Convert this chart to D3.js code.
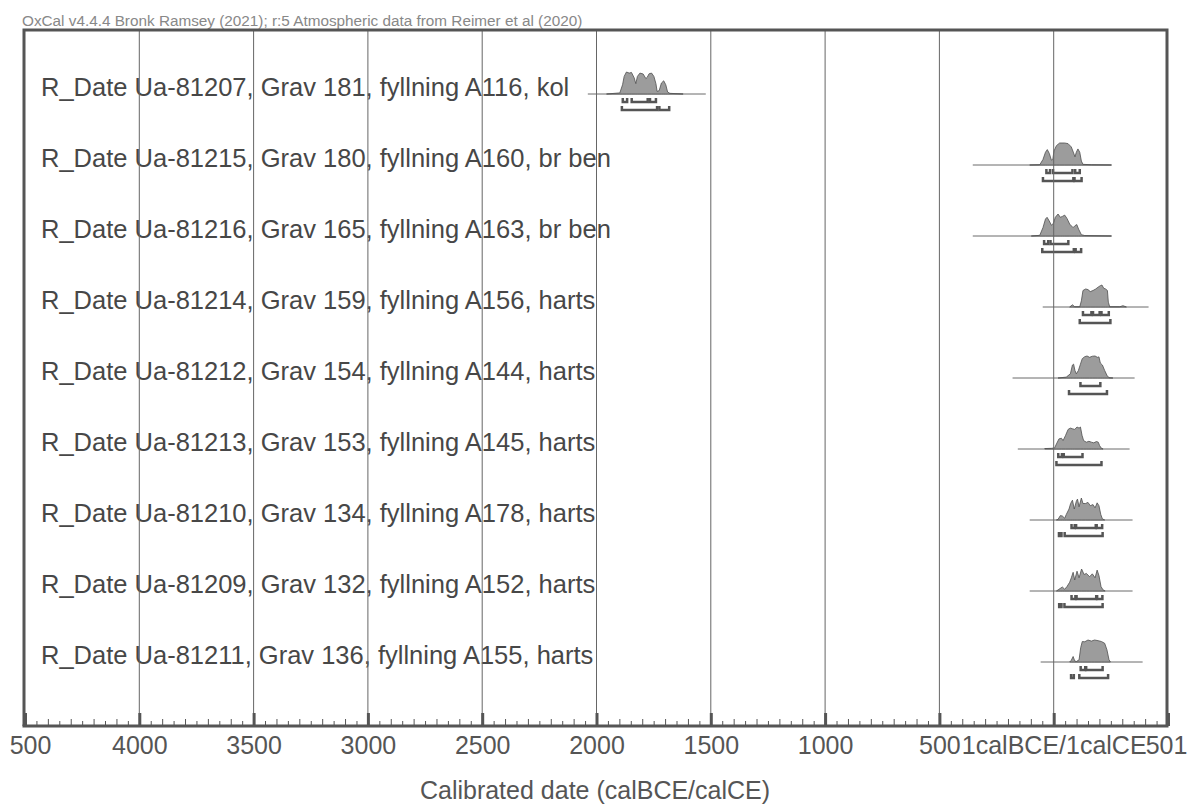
<!DOCTYPE html>
<html>
<head>
<meta charset="utf-8">
<script src="https://cdn.jsdelivr.net/npm/d3@7"></script>
<style>
  body { margin: 0; background: #fff; }
  svg { display: block; font-family: "Liberation Sans", Arial, sans-serif; }
</style>
</head>
<body>
<svg width="1187" height="805"></svg>
<script>
const header = 'OxCal v4.4.4 Bronk Ramsey (2021); r:5 Atmospheric data from Reimer et al (2020)';
const axisTitle = 'Calibrated date (calBCE/calCE)';

const rowLabels = [
  'R_Date Ua-81207, Grav 181, fyllning A116, kol',
  'R_Date Ua-81215, Grav 180, fyllning A160, br ben',
  'R_Date Ua-81216, Grav 165, fyllning A163, br ben',
  'R_Date Ua-81214, Grav 159, fyllning A156, harts',
  'R_Date Ua-81212, Grav 154, fyllning A144, harts',
  'R_Date Ua-81213, Grav 153, fyllning A145, harts',
  'R_Date Ua-81210, Grav 134, fyllning A178, harts',
  'R_Date Ua-81209, Grav 132, fyllning A152, harts',
  'R_Date Ua-81211, Grav 136, fyllning A155, harts'
];

// extent of the thin horizontal line under each distribution (years, negative = BCE)
const lineExtents = [
  [-2038, -1522], [-354, 254], [-354, 254], [-48, 415], [-180, 354],
  [-157, 332], [-105, 345], [-105, 345], [-57, 389]
];

// probability curves: [year, relative probability]
const ua81207 = [[-1956, 0], [-1898, 0.05], [-1886, 0.42], [-1879, 0.8], [-1869, 1], [-1857, 0.95],
  [-1847, 0.98], [-1835, 0.73], [-1828, 0.47], [-1821, 0.8], [-1810, 0.95], [-1796, 0.91],
  [-1784, 0.7], [-1778, 0.76], [-1770, 0.92], [-1759, 0.95], [-1749, 0.8], [-1740, 0.47],
  [-1735, 0.12], [-1726, 0.15], [-1716, 0.5], [-1706, 0.6], [-1697, 0.42], [-1689, 0.09],
  [-1679, 0.03], [-1621, 0]];
const ua81215 = [[-105, 0], [-61, 0.01], [-47, 0.25], [-36, 0.58], [-28, 0.7], [-19, 0.52],
  [-10, 0.22], [-4, 0.25], [1, 0.63], [12, 0.88], [26, 1], [48, 1], [63, 0.97], [77, 0.82],
  [87, 0.55], [93, 0.37], [99, 0.58], [106, 0.73], [114, 0.58], [121, 0.18], [128, 0.03],
  [165, 0.01], [252, 0]];
const ua81216 = [[-98, 0], [-61, 0.03], [-47, 0.38], [-36, 0.77], [-29, 0.85], [-20, 0.69],
  [-10, 0.49], [-1, 0.58], [7, 0.85], [19, 1], [29, 0.85], [38, 0.89], [48, 0.95], [58, 0.8],
  [70, 0.54], [85, 0.38], [92, 0.46], [101, 0.52], [109, 0.31], [121, 0.06], [136, 0.02], [252, 0]];
const ua81214 = [[70, 0], [82, 0.1], [92, 0.01], [114, 0.01], [121, 0.28], [128, 0.75], [140, 0.82],
  [150, 0.79], [160, 0.7], [172, 0.75], [184, 0.82], [194, 0.9], [204, 0.97], [211, 1],
  [219, 0.85], [227, 0.82], [235, 0.75], [239, 0.22], [245, 0.01], [289, 0.01], [303, 0.06], [318, 0]];
const ua81212 = [[19, 0], [55, 0.04], [73, 0.19], [82, 0.59], [87, 0.63], [93, 0.34], [99, 0.19],
  [108, 0.34], [117, 0.63], [125, 0.88], [136, 0.97], [146, 1], [157, 0.94], [169, 0.99],
  [181, 1], [191, 0.94], [198, 0.96], [204, 0.68], [213, 0.59], [223, 0.34], [233, 0.12],
  [242, 0.01], [259, 0]];
const ua81213 = [[-39, 0.02], [-10, 0.03], [4, 0.05], [12, 0.23], [23, 0.46], [34, 0.49], [41, 0.38],
  [52, 0.62], [63, 0.89], [73, 0.95], [82, 0.92], [92, 0.89], [102, 1], [111, 0.95], [117, 1],
  [124, 0.62], [131, 0.38], [143, 0.31], [154, 0.35], [165, 0.31], [175, 0.28], [187, 0.34],
  [195, 0.31], [201, 0.15], [209, 0.03], [216, 0]];
const ua81210 = [[12, 0], [19, 0.03], [29, 0.2], [38, 0.18], [48, 0.08], [55, 0.25], [67, 0.5],
  [74, 0.75], [82, 0.9], [90, 0.5], [99, 0.85], [104, 0.95], [111, 0.6], [121, 1], [128, 0.75],
  [139, 0.75], [150, 0.8], [160, 0.65], [172, 0.7], [181, 0.55], [190, 0.78], [198, 0.65],
  [206, 0.25], [213, 0.05], [223, 0]];
const ua81209 = [[12, 0], [19, 0.05], [29, 0.12], [38, 0.18], [48, 0.08], [58, 0.2], [70, 0.4],
  [77, 0.6], [85, 0.85], [92, 0.5], [102, 0.9], [111, 0.6], [122, 1], [133, 0.75], [143, 0.8],
  [157, 0.65], [169, 0.78], [181, 0.6], [190, 0.95], [198, 0.7], [207, 0.2], [216, 0.05], [225, 0]];
const ua81211 = [[70, 0], [77, 0.08], [85, 0.25], [92, 0.05], [99, 0.02], [111, 0.1], [118, 0.65],
  [125, 0.93], [136, 0.92], [150, 1], [165, 0.95], [179, 1], [194, 0.97], [209, 0.93],
  [223, 0.85], [233, 0.55], [242, 0.1], [248, 0]];
const densities = [ua81207, ua81215, ua81216, ua81214, ua81212, ua81213, ua81210, ua81209, ua81211];

// 68.2% and 95.4% ranges
const ranges68 = [
  [[-1885, -1866], [-1846, -1776], [-1766, -1740]],
  [[-32, -16], [-3, 82], [94, 114]],
  [[-42, -24], [-14, 64]],
  [[128, 165], [172, 201], [209, 241]],
  [[117, 204]],
  [[20, 36], [44, 126]],
  [[78, 92], [98, 184], [188, 212]],
  [[78, 95], [100, 186], [190, 213]],
  [[118, 138], [142, 214]]
];
const ranges95 = [
  [[-1889, -1735], [-1725, -1682]],
  [[-47, 86], [91, 122]],
  [[-50, 88], [96, 120]],
  [[114, 248]],
  [[67, 233]],
  [[12, 209]],
  [[23, 34], [48, 214]],
  [[24, 34], [47, 214]],
  [[76, 88], [112, 238]]
];

const majorTicks = [-4500, -4000, -3500, -3000, -2500, -2000, -1500, -1000, -500, 0, 500];
const tickLabels = ['500', '4000', '3500', '3000', '2500', '2000', '1500', '1000', '500', '1calBCE/1calCE', '501'];

const svg = d3.select('svg');
const frame = { left: 24, right: 1167, top: 30, bottom: 726 };
const ink = '#555';

const x = d3.scaleLinear().domain([-4500, 500]).range([25, 1168]);
const rowY = d3.scalePoint().domain(d3.range(rowLabels.length)).range([94, 662]);
const h = d3.scaleLinear().domain([0, 1]).range([0, 22]);

svg.append('text')
  .attr('x', 22)
  .attr('y', 26)
  .attr('font-size', '15.3px')
  .attr('fill', '#888')
  .text(header);

// row labels
svg.append('g')
  .selectAll('text')
  .data(rowLabels)
  .enter()
  .append('text')
  .attr('x', 41)
  .attr('y', (d, i) => rowY(i) + 2)
  .attr('font-size', '25.5px')
  .attr('fill', '#474747')
  .text((d) => d);

// distributions
const rows = svg.append('g')
  .selectAll('g')
  .data(densities)
  .enter()
  .append('g')
  .attr('transform', (d, i) => `translate(0, ${rowY(i)})`);

rows.append('line')
  .attr('x1', (d, i) => x(lineExtents[i][0]))
  .attr('x2', (d, i) => x(lineExtents[i][1]))
  .attr('stroke', '#6a6a6a')
  .attr('stroke-width', 1);

const area = d3.area()
  .x((d) => x(d[0]))
  .y0(0)
  .y1((d) => -h(d[1]));

rows.append('path')
  .attr('d', (d) => area(d))
  .attr('fill', '#9c9c9c')
  .attr('stroke', '#4f4f4f')
  .attr('stroke-width', 0.8);

const bracket = (r, y) => `M${x(r[0])},${y - 4}V${y}H${x(r[1])}V${y - 4}`;

rows.each(function (d, i) {
  const g = d3.select(this);
  g.selectAll('.r68')
    .data(ranges68[i])
    .enter()
    .append('path')
    .attr('d', (r) => bracket(r, 8))
    .attr('fill', 'none')
    .attr('stroke', ink)
    .attr('stroke-width', 2.5);
  g.selectAll('.r95')
    .data(ranges95[i])
    .enter()
    .append('path')
    .attr('d', (r) => bracket(r, 16))
    .attr('fill', 'none')
    .attr('stroke', ink)
    .attr('stroke-width', 2.5);
});

// vertical grid lines
svg.append('g')
  .selectAll('line')
  .data(majorTicks.slice(1, -1))
  .enter()
  .append('line')
  .attr('x1', (d) => x(d))
  .attr('x2', (d) => x(d))
  .attr('y1', frame.top)
  .attr('y2', frame.bottom)
  .attr('stroke', '#666')
  .attr('stroke-width', 1);

// ticks along the bottom, pointing up into the frame
const tickGroup = (values, size, width) => {
  const g = svg.append('g')
    .attr('transform', `translate(0, ${frame.bottom})`)
    .call(d3.axisTop(x).tickValues(values).tickSize(size).tickFormat(''));
  g.select('.domain').remove();
  g.selectAll('line').attr('stroke', ink).attr('stroke-width', width);
};
tickGroup(d3.range(-4450, 500, 100), 5, 1);
tickGroup(d3.range(-4400, 500, 100), 7, 1);
tickGroup(majorTicks, 13, 3);

const labels = svg.append('g')
  .attr('transform', `translate(0, ${frame.bottom})`)
  .call(d3.axisBottom(x).tickValues(majorTicks).tickSize(0).tickPadding(10)
    .tickFormat((d, i) => tickLabels[i]));
labels.select('.domain').remove();
labels.selectAll('text')
  .attr('font-size', '25px')
  .attr('font-family', '"Liberation Sans", Arial, sans-serif')
  .attr('fill', ink)
  .attr('dx', (d, i) => (i === 0 ? 5 : i === majorTicks.length - 1 ? -2 : 0));

// frame
svg.append('path')
  .attr('d', `M${frame.left},${frame.bottom}V${frame.top}H${frame.right}V${frame.bottom}`)
  .attr('fill', 'none')
  .attr('stroke', ink)
  .attr('stroke-width', 3);
svg.append('line')
  .attr('x1', frame.left - 1.5)
  .attr('x2', frame.right + 1.5)
  .attr('y1', frame.bottom)
  .attr('y2', frame.bottom)
  .attr('stroke', ink)
  .attr('stroke-width', 3);

svg.append('text')
  .attr('x', 595)
  .attr('y', 799)
  .attr('text-anchor', 'middle')
  .attr('font-size', '25px')
  .attr('fill', ink)
  .text(axisTitle);
</script>
</body>
</html>
